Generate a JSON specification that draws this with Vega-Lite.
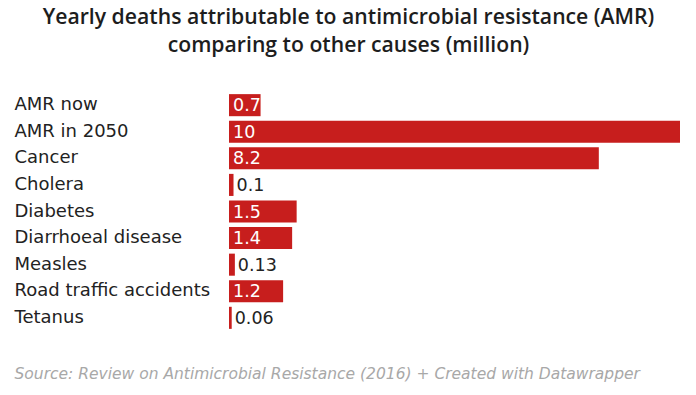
{
  "$schema": "https://vega.github.io/schema/vega-lite/v6.json",
  "autosize": "none",
  "width": 451,
  "height": 239,
  "padding": {"left": 229, "top": 92, "right": 16, "bottom": 64},
  "background": "white",
  "title": {
    "text": ["Yearly deaths attributable to antimicrobial resistance (AMR)", "comparing to other causes (million)"],
    "font": "Open Sans",
    "fontSize": 21.2,
    "fontWeight": 600,
    "color": "#1d1d1d",
    "anchor": "middle",
    "frame": "group",
    "dx": -106,
    "offset": 36,
    "lineHeight": 28
  },
  "config": {"view": {"stroke": null}},
  "data": {
    "values": [
      {"cause": "AMR now", "deaths": 0.7, "label": "0.7"},
      {"cause": "AMR in 2050", "deaths": 10, "label": "10"},
      {"cause": "Cancer", "deaths": 8.2, "label": "8.2"},
      {"cause": "Cholera", "deaths": 0.1, "label": "0.1"},
      {"cause": "Diabetes", "deaths": 1.5, "label": "1.5"},
      {"cause": "Diarrhoeal disease", "deaths": 1.4, "label": "1.4"},
      {"cause": "Measles", "deaths": 0.13, "label": "0.13"},
      {"cause": "Road traffic accidents", "deaths": 1.2, "label": "1.2"},
      {"cause": "Tetanus", "deaths": 0.06, "label": "0.06"}
    ]
  },
  "encoding": {
    "y": {
      "field": "cause",
      "type": "nominal",
      "sort": null,
      "scale": {"paddingInner": 0.17, "paddingOuter": 0.08},
      "axis": {
        "title": null,
        "domain": false,
        "ticks": false,
        "labelAlign": "left",
        "labelPadding": 215,
        "labelLimit": 0,
        "labelFont": "DejaVu Sans",
        "labelFontSize": 18,
        "labelColor": "#222"
      }
    }
  },
  "layer": [
    {
      "mark": {"type": "bar", "color": "#c71e1d"},
      "encoding": {
        "x": {
          "field": "deaths",
          "type": "quantitative",
          "scale": {"domain": [0, 10], "nice": false},
          "axis": {
            "labels": false,
            "ticks": false,
            "domain": false,
            "grid": false,
            "title": "Source: Review on Antimicrobial Resistance (2016) + Created with Datawrapper",
            "titleFont": "DejaVu Sans",
            "titleFontSize": 15.5,
            "titleFontStyle": "italic",
            "titleFontWeight": "normal",
            "titleColor": "#a8a8a8",
            "titleAnchor": "start",
            "titleAlign": "left",
            "titleX": -215,
            "titleY": 47,
            "titleBaseline": "alphabetic"
          }
        }
      }
    },
    {
      "transform": [{"filter": "datum.deaths >= 0.5"}],
      "mark": {"type": "text", "align": "left", "dx": 4, "dy": 1, "font": "DejaVu Sans", "fontSize": 17.5, "color": "white"},
      "encoding": {
        "x": {"datum": 0, "type": "quantitative"},
        "text": {"field": "label"}
      }
    },
    {
      "transform": [{"filter": "datum.deaths < 0.5"}],
      "mark": {"type": "text", "align": "left", "dx": 3, "dy": 1, "font": "DejaVu Sans", "fontSize": 17.5, "color": "#222"},
      "encoding": {
        "x": {"field": "deaths", "type": "quantitative"},
        "text": {"field": "label"}
      }
    }
  ]
}
